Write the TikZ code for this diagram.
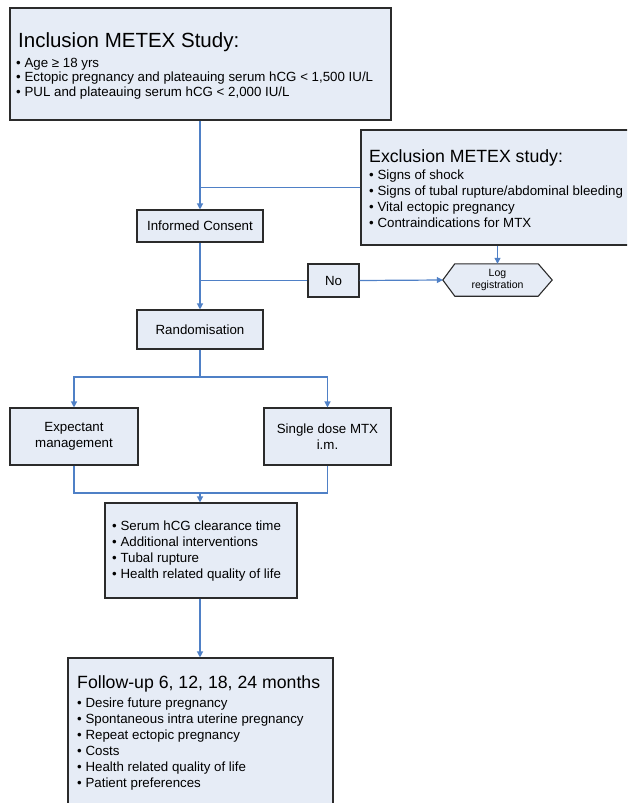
\documentclass[tikz,border=0pt]{standalone}
\usepackage{fontspec}
\setmainfont{Liberation Sans}
\usetikzlibrary{arrows.meta,backgrounds}
\definecolor{boxfill}{HTML}{E6ECF6}
\definecolor{linkblue}{HTML}{4F80C6}
\definecolor{boxline}{HTML}{2B2B2B}
\tikzset{
  box/.style={draw=boxline, fill=boxfill, line width=1.1pt, inner sep=0pt, rectangle},
  link/.style={draw=linkblue, line width=1.2pt},
  arr/.style={link, -{Triangle[length=6pt,width=6pt]}},
  bigtitle/.style={anchor=base west, inner sep=0pt, font=\fontsize{20.5}{24}\selectfont},
  midtitle/.style={anchor=base west, inner sep=0pt, font=\fontsize{17.7}{21}\selectfont},
  bullets/.style={anchor=base west, inner sep=0pt, align=left},
  lbl/.style={align=center, font=\fontsize{13.3}{15.5}\selectfont},
}
\begin{document}
\begin{tikzpicture}[x=1pt,y=1pt]
\useasboundingbox (0,0) rectangle (627,-803);
\clip (0,0) rectangle (627,-803);

% boxes (bullet nodes are placed by the baseline of their last line)
\node[box, minimum width=381pt, minimum height=112pt] (incl) at (200.5,-64) {};
\node[bigtitle] (inclt) at (18,-47) {Inclusion METEX Study:};
\node[bullets, font=\fontsize{13.3}{14.5}\selectfont] (inclb) at (16,-96)
  {• Age ≥ 18 yrs\\• Ectopic pregnancy and plateauing serum hCG < 1,500 IU/L\\• PUL and plateauing serum hCG < 2,000 IU/L};

\node[box, minimum width=280pt, minimum height=115pt] (excl) at (501,-187.5) {};
\node[midtitle] (exclt) at (369,-162) {Exclusion METEX study:};
\node[bullets, font=\fontsize{13.3}{16}\selectfont] (exclb) at (369,-227)
  {• Signs of shock\\• Signs of tubal rupture/abdominal bleeding\\• Vital ectopic pregnancy\\• Contraindications for MTX};

\node[box, lbl, minimum width=126pt, minimum height=32pt] (consent) at (200,-226) {Informed Consent};
\node[box, lbl, minimum width=51pt, minimum height=33pt] (no) at (333.5,-280.5) {No};
\node[lbl, inner sep=0pt, minimum width=109pt, minimum height=32pt, font=\fontsize{10.5}{12}\selectfont] (log) at (497.5,-280) {Log\\registration};
\begin{scope}[on background layer]
\draw[box] (log.west) -- ([xshift=12pt]log.north west) -- ([xshift=-14pt]log.north east)
  -- (log.east) -- ([xshift=-14pt]log.south east) -- ([xshift=12pt]log.south west) -- cycle;
\end{scope}
\node[box, lbl, minimum width=126pt, minimum height=39pt] (rand) at (200,-329.5) {Randomisation};
\node[box, lbl, minimum width=128pt, minimum height=57pt] (exp) at (74,-436.5) {Expectant\\management};
\node[box, lbl, minimum width=127pt, minimum height=57pt] (mtx) at (327.5,-436.5) {Single dose MTX\\i.m.};

\node[box, minimum width=192pt, minimum height=95pt] (out) at (201,-550.5) {};
\node[bullets, font=\fontsize{13.3}{16}\selectfont] (outb) at (112,-578)
  {• Serum hCG clearance time\\• Additional interventions\\• Tubal rupture\\• Health related quality of life};

\node[box, minimum width=265pt, minimum height=162pt] (fu) at (200.5,-739) {};
\node[midtitle] (fut) at (77,-688) {Follow-up 6, 12, 18, 24 months};
\node[bullets, font=\fontsize{13.3}{15.9}\selectfont] (fub) at (77,-787)
  {• Desire future pregnancy\\• Spontaneous intra uterine pregnancy\\• Repeat ectopic pregnancy\\• Costs\\• Health related quality of life\\• Patient preferences};

% connectors
\coordinate (jno) at (200,-280.5);
\coordinate (jr) at (200,-377);
\coordinate (jm) at (200,-493);
\draw[arr] (consent.north |- incl.south) -- (consent.north);
\draw[link] (excl.west) -- (excl.west -| consent.north);
\draw[arr] (consent.south) -- (rand.north);
\draw[link] (jno) -- (no.west);
\draw[arr] (no.east) -- (log.west);
\draw[arr] (log.north |- excl.south) -- (log.north);
\draw[link] (rand.south) -- (jr);
\draw[arr] (jr) -| (exp.north);
\draw[arr] (jr) -| (mtx.north);
\draw[link] (exp.south) |- (jm);
\draw[link] (mtx.south) |- (jm);
\draw[arr] (jm) -- (jm |- out.north);
\draw[arr] (jm |- out.south) -- (jm |- fu.north);
\end{tikzpicture}
\end{document}
